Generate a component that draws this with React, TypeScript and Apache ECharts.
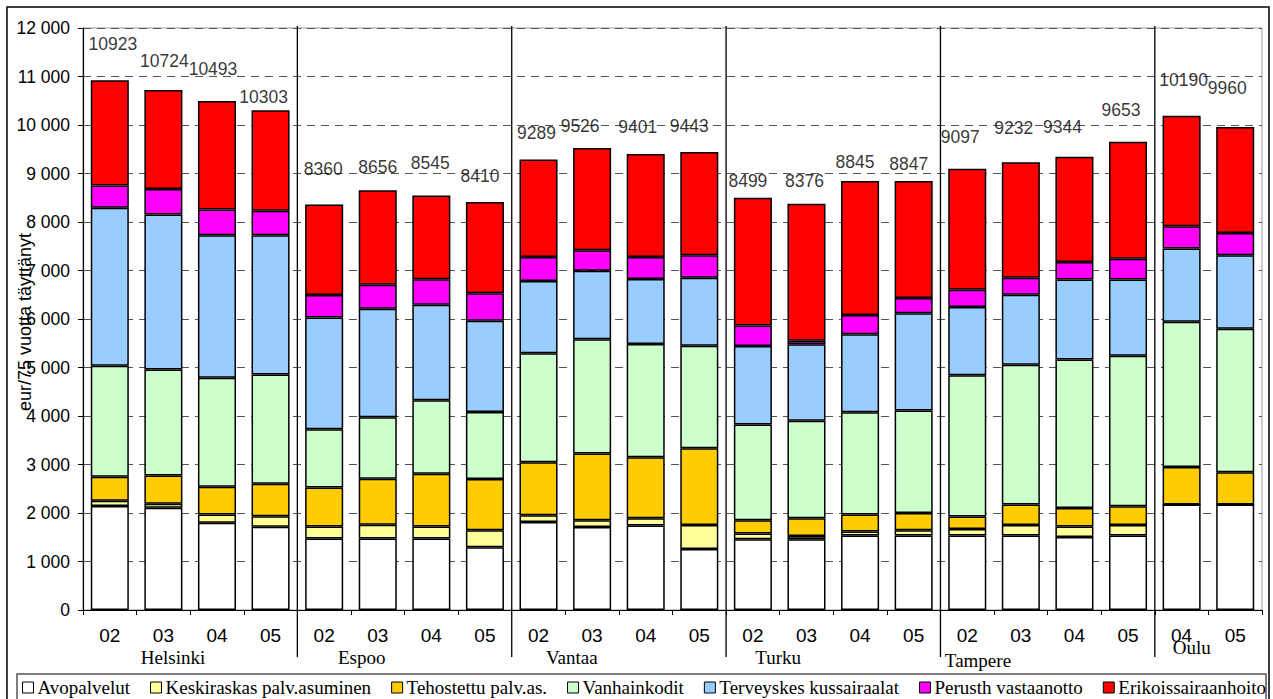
import React, { useEffect, useRef } from "react";
import * as echarts from "echarts";

// ---- data ----
const periods = [
  "02", "03", "04", "05",
  "02", "03", "04", "05",
  "02", "03", "04", "05",
  "02", "03", "04", "05",
  "02", "03", "04", "05",
  "04", "05",
];
const cities = ["Helsinki", "Espoo", "Vantaa", "Turku", "Tampere", "Oulu"];
const cityBarCounts = [4, 4, 4, 4, 4, 2];

const seriesNames = [
  "Avopalvelut",
  "Keskiraskas palv.asuminen",
  "Tehostettu palv.as.",
  "Vanhainkodit",
  "Terveyskes kussairaalat",
  "Perusth vastaanotto",
  "Erikoissairaanhoito",
];

const avopalvelut = [2142, 2107, 1797, 1715, 1474, 1474, 1474, 1295, 1815, 1713, 1741, 1259, 1459, 1459, 1535, 1535, 1535, 1535, 1506, 1535, 2175, 2175];
const keskiraskas = [110, 83, 173, 220, 248, 282, 248, 351, 139, 138, 151, 495, 117, 68, 82, 109, 136, 219, 214, 219, 0, 0];
const tehostettu = [496, 585, 571, 668, 806, 951, 1088, 1054, 1093, 1375, 1258, 1582, 275, 365, 351, 357, 256, 421, 384, 385, 775, 666];
const vanhainkodit = [2286, 2184, 2246, 2252, 1198, 1267, 1515, 1384, 2249, 2359, 2332, 2111, 1974, 2008, 2111, 2113, 2915, 2880, 3062, 3101, 2992, 2956];
const terveyskeskus = [3258, 3195, 2940, 2872, 2307, 2238, 1970, 1880, 1486, 1409, 1341, 1403, 1616, 1579, 1609, 2007, 1403, 1444, 1651, 1577, 1514, 1515];
const perusth = [461, 524, 531, 503, 461, 496, 523, 565, 495, 421, 454, 462, 427, 71, 392, 310, 357, 351, 357, 425, 454, 460];
const erikois = [2170, 2046, 2235, 2073, 1866, 1948, 1727, 1881, 2012, 2111, 2124, 2131, 2631, 2826, 2765, 2416, 2495, 2382, 2170, 2411, 2280, 2188];
const totals = [10923, 10724, 10493, 10303, 8360, 8656, 8545, 8410, 9289, 9526, 9401, 9443, 8499, 8376, 8845, 8847, 9097, 9232, 9344, 9653, 10190, 9960];

const yMin = 0;
const yMax = 12000;
const yStep = 1000;

// ---- styling (not data) ----
const colors = ["#FFFFFF", "#FFFF99", "#FFCC00", "#CCFFCC", "#99CCFF", "#FF00FF", "#FF0000"];
// total-label nudges [dx px, lift px above bar top], as placed in the original
const totalLabelNudge = [
  [3, 36], [1, 29], [-4, 32], [-7, 13],
  [-1, 36], [0, 23], [-1, 33], [-5, 26],
  [-2, 26], [-12, 22], [-8, 27], [-10, 26],
  [-5, 17], [-2, 23], [-5, 19], [-5, 17],
  [-7, 32], [-7, 34], [-12, 30], [-7, 32],
  [2, 36], [-8, 39],
];
// city label centre, in category widths from the group's left edge; and y
const cityLabelShift = [1.68, 1.2, 1.12, 0.97, 0.7, 0.69];
const cityLabelY = [657, 657, 657, 657, 660, 647];

const SANS = "'Liberation Sans', Arial, sans-serif";
const SERIF = "'Liberation Serif', 'Times New Roman', serif";

const fmtThousands = (v: number) => String(v).replace(/\B(?=(\d{3})+(?!\d))/g, " ");

export default function App() {
  const ref = useRef<HTMLDivElement>(null);

  useEffect(() => {
    if (!ref.current) return;
    const chart = echarts.init(ref.current, null, { renderer: "svg" });
    const seriesData = [avopalvelut, keskiraskas, tehostettu, vanhainkodit, terveyskeskus, perusth, erikois];

    const barSeries = seriesNames.map((name, i) => ({
      name,
      type: "bar",
      stack: "total",
      barWidth: "71%",
      data: seriesData[i],
      itemStyle: { color: colors[i], borderColor: "#000", borderWidth: 1.5 },
      emphasis: { disabled: true },
    }));

    const labelSeries = {
      name: "Yhteensä",
      type: "scatter",
      symbolSize: 0,
      z: 10,
      data: totals.map((v, i) => ({
        value: v,
        label: { offset: [totalLabelNudge[i][0], -totalLabelNudge[i][1]] },
      })),
      label: {
        show: true,
        position: "inside",
        formatter: (p: any) => String(p.value),
        color: "#000",
        fontFamily: SANS,
        fontSize: 17.5,
      },
      emphasis: { disabled: true },
    };

    chart.setOption({
      animation: false,
      backgroundColor: "#fff",
      grid: {
        left: 83,
        right: 11,
        top: 28,
        bottom: 89,
        show: true,
        borderColor: "#999",
        borderWidth: 1,
        backgroundColor: "transparent",
      },
      legend: {
        data: seriesNames,
        left: 22,
        top: 678,
        padding: 0,
        itemGap: 20,
        itemWidth: 11,
        itemHeight: 11,
        icon: "rect",
        itemStyle: { borderColor: "#000", borderWidth: 1 },
        textStyle: { fontFamily: SERIF, fontSize: 19, color: "#000", padding: [0, 0, 0, -1] },
        selectedMode: false,
      },
      xAxis: {
        type: "category",
        data: periods,
        boundaryGap: true,
        axisLine: { show: true, lineStyle: { color: "#000", width: 1.2 } },
        axisTick: { show: true, alignWithLabel: false, length: 5, lineStyle: { color: "#000" } },
        axisLabel: { interval: 0, margin: 16, color: "#000", fontFamily: SANS, fontSize: 19 },
        splitLine: { show: false },
      },
      yAxis: {
        type: "value",
        min: yMin,
        max: yMax,
        interval: yStep,
        axisLine: { show: true, lineStyle: { color: "#000", width: 1.2 } },
        axisTick: { show: true, inside: false, length: 5, lineStyle: { color: "#000" } },
        axisLabel: {
          margin: 13,
          color: "#000",
          fontFamily: SANS,
          fontSize: 17.5,
          formatter: (v: number) => fmtThousands(v),
        },
        splitLine: { show: true, lineStyle: { color: "#555", type: [8, 6], width: 1 } },
      },
      series: [...barSeries, labelSeries],
    });

    // overlay: separators, city names, axis title, frames
    const px = (i: number) => chart.convertToPixel({ xAxisIndex: 0 }, i) as number;
    const band = px(1) - px(0);
    const graphics: any[] = [];

    let start = 0;
    cities.forEach((city, ci) => {
      const left = px(start) - band / 2;
      const cx = left + cityLabelShift[ci] * band;
      graphics.push({
        type: "text",
        x: cx,
        y: cityLabelY[ci],
        silent: true,
        z: 20,
        style: {
          text: city,
          font: `19px ${SERIF}`,
          fill: "#000",
          textAlign: "center",
          textVerticalAlign: "middle",
          align: "center",
          verticalAlign: "middle",
        },
      });
      start += cityBarCounts[ci];
      if (ci < cities.length - 1) {
        const bx = px(start) - band / 2;
        graphics.push({
          type: "line",
          silent: true,
          z: 20,
          shape: { x1: bx, y1: 26, x2: bx, y2: 657 },
          style: { stroke: "#000", lineWidth: 1.3 },
        });
      }
    });

    graphics.push({
      type: "text",
      x: 25,
      y: 322,
      rotation: Math.PI / 2,
      silent: true,
      z: 20,
      style: {
        text: "eur/75 vuotta täyttänyt",
        font: `18px ${SANS}`,
        fill: "#000",
        textAlign: "center",
        textVerticalAlign: "middle",
        align: "center",
        verticalAlign: "middle",
      },
    });

    graphics.push({
      type: "rect",
      silent: true,
      z: 0,
      shape: { x: 17, y: 674, width: 1249, height: 40 },
      style: { fill: "none", stroke: "#555", lineWidth: 1.5 },
    });
    graphics.push({
      type: "rect",
      silent: true,
      z: 0,
      shape: { x: 7, y: 7, width: 1262, height: 702 },
      style: { fill: "none", stroke: "#000", lineWidth: 1.5 },
    });

    chart.setOption({ graphic: graphics });

    return () => chart.dispose();
  }, []);

  return (
    <div
      ref={ref}
      style={{ position: "fixed", left: 0, top: 0, width: 1273, height: 699, background: "#fff" }}
    />
  );
}
